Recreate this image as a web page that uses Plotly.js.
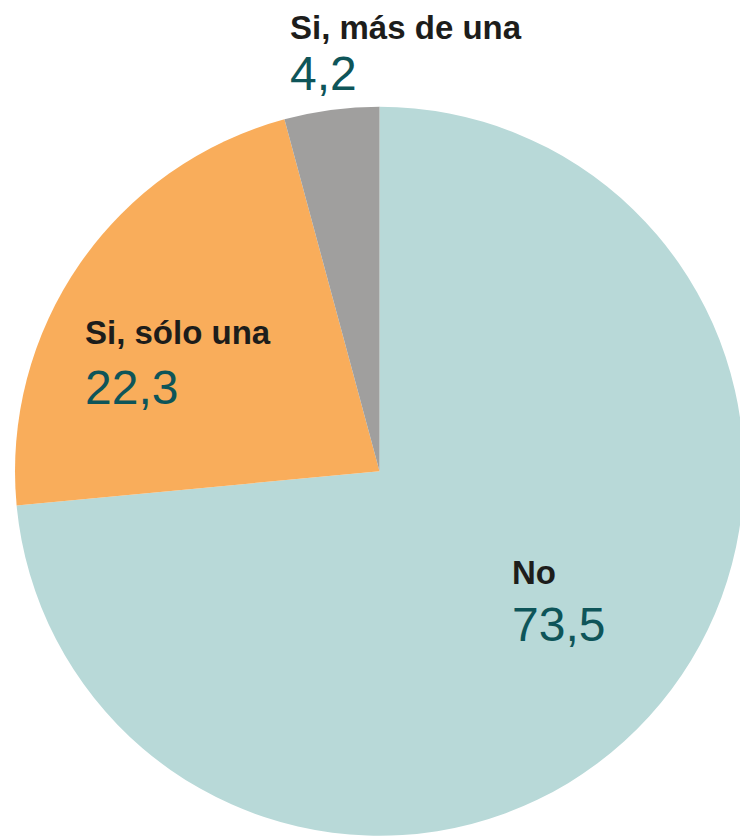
<!DOCTYPE html>
<html>
<head>
<meta charset="utf-8">
<script src="https://cdn.plot.ly/plotly-3.0.1.min.js"></script>
<style>
html, body { margin: 0; padding: 0; overflow: hidden; background: #ffffff; }
#chart { width: 760px; height: 836px; }
</style>
</head>
<body>
<div id="chart"></div>
<script>
const categories = ["No", "Si, sólo una", "Si, más de una"];
const values = [73.5, 22.3, 4.2];
const valueLabels = ["73,5", "22,3", "4,2"];
const colors = ["#b8d9d8", "#f9ad5b", "#a09f9e"];

const W = 760, H = 836;
// label placement in pixels: [left x, top y of box, line-gap font size]
const labelPos = [
  [510, 552, 43.8],
  [82.5, 312, 46.2],
  [287.5, 6.6, 39.2]
];

const annotations = categories.map((c, i) => {
  const p = labelPos[i];
  return {
    xref: "paper", yref: "paper",
    x: p[0] / W, y: 1 - p[1] / H,
    xanchor: "left", yanchor: "top",
    align: "left",
    text: '<span style="font-size:33px;color:#1d1d1b"><b>' + c + '</b></span><br>' +
          '<span style="font-size:48px;color:#0e5559">' + valueLabels[i] + '</span>',
    showarrow: false,
    font: { family: "Liberation Sans, Arial, sans-serif", size: p[2], color: "#0e5559" }
  };
});

const trace = {
  type: "pie",
  labels: categories,
  values: values,
  sort: false,
  direction: "clockwise",
  rotation: 0,
  textinfo: "none",
  hoverinfo: "skip",
  marker: { colors: colors, line: { width: 0 } },
  domain: { x: [15 / W, 744 / W], y: [0, (H - 106.5) / H] },
  showlegend: false
};

const layout = {
  width: W, height: H,
  margin: { l: 0, r: 0, t: 0, b: 0, pad: 0 },
  paper_bgcolor: "#ffffff",
  plot_bgcolor: "#ffffff",
  showlegend: false,
  annotations: annotations
};

Plotly.newPlot("chart", [trace], layout, { displayModeBar: false, staticPlot: true });
</script>
</body>
</html>
